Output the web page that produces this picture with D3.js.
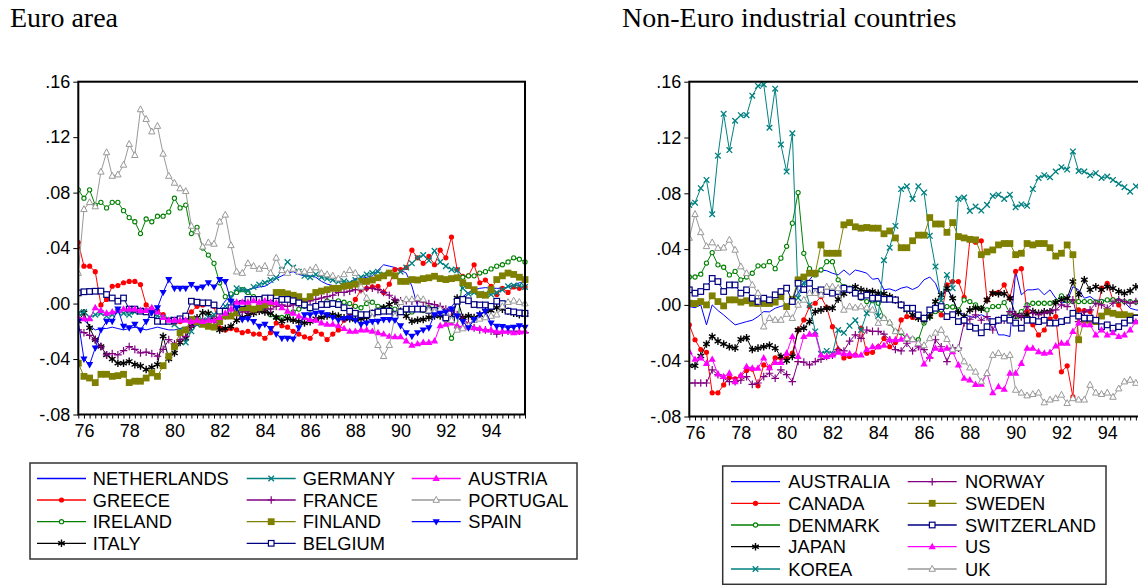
<!DOCTYPE html>
<html>
<head>
<meta charset="utf-8">
<script src="https://cdn.jsdelivr.net/npm/d3@7"></script>
<style>
  html, body { margin: 0; padding: 0; background: #fff; }
  svg { display: block; }
  text { font-family: "Liberation Sans", Arial, sans-serif; fill: #000; }
  .title { font-family: "Liberation Serif", "Times New Roman", serif; }
</style>
</head>
<body>
<svg id="chart" width="1138" height="585"></svg>
<script>
// Quarterly deviations, 1975Q4 - 1995Q3 (80 observations per country)
const FIRST_QUARTER = 1975.75;

// ---- Euro area ----
const NETHERLANDS = [-0.010,-0.012,-0.016,-0.019,-0.018,-0.018,-0.017,-0.018,-0.019,-0.018,-0.017,-0.018,-0.019,-0.018,-0.017,-0.018,-0.019,-0.019,-0.018,-0.017,-0.016,-0.015,-0.014,-0.012,-0.008,-0.004,0.002,0.005,0.008,0.010,0.010,0.011,0.012,0.0125,0.015,0.018,0.020,0.022,0.023,0.021,0.020,0.020,0.019,0.016,0.014,0.013,0.012,0.0125,0.015,0.018,0.018,0.019,0.020,0.024,0.028,0.027,0.026,0.024,0.022,0.0125,-0.002,-0.004,-0.0055,-0.006,-0.0055,-0.004,-0.002,0.002,0.005,0.008,0.010,0.011,0.0115,0.011,0.011,0.011,0.012,0.013,0.015,0.015];
const GREECE = [0.044,0.027,0.027,0.023,-0.001,0.003,0.0125,0.013,0.015,0.016,0.016,0.0137,-0.001,-0.004,-0.005,-0.008,-0.012,-0.014,-0.013,-0.010,-0.006,-0.002,-0.001,0.000,-0.002,-0.0175,-0.019,-0.018,-0.019,-0.021,-0.020,-0.022,-0.022,-0.025,-0.021,-0.014,-0.016,-0.017,-0.020,-0.022,-0.024,-0.025,-0.020,-0.022,-0.026,-0.022,-0.019,-0.012,-0.007,0.003,0.010,0.011,0.012,0.0125,0.008,0.014,0.0245,0.0245,0.026,0.0385,0.033,0.029,0.034,0.028,0.0385,0.033,0.048,0.0245,0.0197,0.020,0.028,0.015,0.017,0.0125,0.0065,0.011,0.008,0.012,0.011,0.012];
const IRELAND = [0.082,0.076,0.082,0.071,0.073,0.069,0.073,0.073,0.067,0.062,0.059,0.0505,0.061,0.059,0.063,0.063,0.066,0.076,0.069,0.071,0.0505,0.055,0.040,0.035,0.029,0.015,0.005,0.007,0.008,0.010,0.008,0.005,0.002,-0.003,-0.008,-0.010,-0.010,-0.009,-0.006,-0.004,-0.002,-0.004,-0.002,0.000,0.002,0.001,0.002,0.001,0.000,-0.002,-0.003,0.000,0.001,-0.002,-0.003,-0.004,-0.004,-0.006,-0.005,-0.006,-0.004,-0.005,-0.003,-0.004,-0.006,-0.012,-0.025,-0.017,0.019,0.020,0.020,0.022,0.023,0.025,0.027,0.028,0.030,0.033,0.032,0.030];
const ITALY = [-0.0128,-0.0067,-0.0175,-0.026,-0.031,-0.037,-0.040,-0.043,-0.043,-0.0417,-0.044,-0.045,-0.0476,-0.046,-0.044,-0.0236,-0.040,-0.0356,-0.028,-0.025,-0.0164,-0.0103,-0.0067,-0.007,-0.0115,-0.019,-0.018,-0.0164,-0.012,-0.010,-0.008,-0.007,-0.0055,-0.006,-0.007,-0.010,-0.0128,-0.011,-0.012,-0.013,-0.014,-0.013,-0.011,-0.010,-0.009,-0.008,-0.009,-0.0103,-0.011,-0.0115,-0.011,-0.010,-0.007,-0.0055,-0.003,-0.0007,0.0017,-0.0055,-0.009,-0.0128,-0.012,-0.0115,-0.010,-0.009,-0.009,-0.010,-0.0103,0.004,-0.010,-0.009,-0.010,-0.008,-0.0055,-0.005,-0.003,-0.004,-0.0055,-0.007,-0.008,-0.008];
const GERMANY = [-0.007,-0.006,-0.010,-0.008,-0.007,-0.009,-0.008,-0.006,-0.007,-0.008,-0.006,-0.005,-0.006,-0.008,-0.009,-0.010,-0.0115,-0.015,-0.019,-0.028,-0.020,-0.015,-0.012,-0.010,-0.008,-0.005,-0.002,0.004,0.011,0.010,0.009,0.012,0.0137,0.015,0.017,0.0186,0.024,0.030,0.026,0.023,0.020,0.019,0.021,0.019,0.018,0.017,0.016,0.016,0.015,0.017,0.019,0.021,0.022,0.023,0.021,0.022,0.020,0.023,0.026,0.029,0.033,0.035,0.031,0.038,0.030,0.027,0.0245,0.024,0.011,0.007,0.008,0.006,0.007,0.0065,0.008,0.010,0.0125,0.013,0.013,0.012];
const FRANCE = [-0.019,-0.021,-0.023,-0.026,-0.031,-0.037,-0.036,-0.037,-0.034,-0.031,-0.033,-0.0356,-0.035,-0.036,-0.038,-0.033,-0.026,-0.029,-0.026,-0.0236,-0.0164,-0.013,-0.012,-0.013,-0.012,-0.010,-0.009,-0.008,-0.007,-0.006,-0.006,-0.005,-0.004,-0.003,-0.004,-0.002,-0.001,-0.002,-0.001,0.000,0.001,0.002,0.003,0.004,0.005,0.006,0.008,0.008,0.009,0.010,0.010,0.011,0.011,0.010,0.008,0.006,0.003,0.002,0.002,0.0017,0.002,0.001,0.000,-0.0007,-0.002,-0.004,-0.0055,-0.008,-0.0115,-0.014,-0.0175,-0.019,-0.019,-0.020,-0.022,-0.021,-0.020,-0.020,-0.020,-0.021];
const FINLAND = [-0.043,-0.0525,-0.0537,-0.057,-0.051,-0.051,-0.0525,-0.052,-0.051,-0.057,-0.056,-0.056,-0.0537,-0.050,-0.0525,-0.0448,-0.038,-0.031,-0.021,-0.019,-0.0115,-0.013,-0.015,-0.0164,-0.017,-0.013,-0.009,-0.009,-0.0067,-0.003,-0.003,-0.004,-0.003,-0.001,0.0005,0.008,0.008,0.007,0.006,0.005,0.0017,0.005,0.008,0.009,0.010,0.011,0.011,0.0125,0.013,0.014,0.016,0.016,0.017,0.0186,0.020,0.022,0.020,0.016,0.016,0.0173,0.017,0.018,0.0186,0.0197,0.018,0.0173,0.018,0.0186,0.015,0.013,0.010,0.0065,0.006,0.010,0.0173,0.020,0.022,0.021,0.019,0.0173];
const BELGIUM = [0.0077,0.0085,0.0087,0.0089,0.009,0.0065,0.004,0.0017,0.004,-0.004,-0.004,-0.0055,-0.006,-0.008,-0.0128,-0.0128,-0.0128,-0.012,-0.011,-0.009,0.0017,0.001,0.0005,0.0005,-0.001,-0.0055,-0.0055,-0.003,-0.0007,0.000,0.003,0.003,0.003,0.004,0.004,0.0017,0.003,0.003,0.002,0.0005,-0.001,-0.003,-0.002,-0.0007,-0.0007,0.000,-0.0007,-0.003,-0.0055,-0.007,-0.008,-0.008,-0.007,-0.006,-0.0055,-0.0055,-0.008,-0.006,-0.004,-0.004,-0.004,-0.004,-0.005,-0.005,-0.0067,-0.0103,-0.0115,0.0017,0.003,0.002,-0.0007,-0.001,-0.001,-0.002,0.0017,0.000,-0.0055,-0.006,-0.0067,-0.007];
const AUSTRIA = [-0.010,-0.011,-0.011,-0.003,-0.005,-0.007,-0.006,-0.005,-0.004,-0.004,-0.004,-0.005,-0.005,-0.003,-0.006,-0.010,-0.012,-0.012,-0.012,-0.012,-0.013,-0.012,-0.013,-0.012,-0.012,-0.010,-0.007,-0.004,0.001,0.001,0.001,0.002,0.001,0.002,0.001,0.0005,-0.003,-0.0055,-0.007,-0.009,-0.010,-0.0115,-0.012,-0.014,-0.015,-0.015,-0.016,-0.018,-0.020,-0.020,-0.019,-0.019,-0.020,-0.021,-0.022,-0.0236,-0.024,-0.024,-0.027,-0.030,-0.029,-0.028,-0.028,-0.027,-0.016,-0.015,-0.014,-0.016,-0.017,-0.017,-0.0175,-0.018,-0.019,-0.019,-0.020,-0.020,-0.020,-0.021,-0.0205,-0.020];
const PORTUGAL = [0.022,0.068,0.073,0.070,0.095,0.109,0.092,0.093,0.100,0.115,0.107,0.140,0.133,0.124,0.128,0.108,0.092,0.087,0.083,0.081,0.056,0.052,0.041,0.044,0.043,0.059,0.064,0.042,0.023,0.022,0.029,0.027,0.025,0.027,0.022,0.033,0.024,0.022,0.025,0.023,0.023,0.024,0.026,0.022,0.021,0.020,0.018,0.021,0.024,0.022,0.012,0.004,-0.010,-0.030,-0.038,-0.030,-0.009,0.001,0.003,0.003,0.004,0.003,-0.005,-0.006,-0.004,-0.006,-0.012,-0.019,-0.018,-0.016,-0.012,-0.011,-0.010,-0.009,-0.008,-0.002,0.001,0.002,0.001,0.000];
const SPAIN = [-0.0128,-0.040,-0.044,-0.032,-0.019,-0.0128,-0.0128,-0.004,-0.0164,-0.0175,-0.015,-0.019,-0.013,-0.0067,-0.003,0.008,0.0173,0.011,0.011,0.011,0.0137,0.011,0.012,0.015,0.012,0.0173,0.016,0.0017,-0.003,-0.0115,-0.011,-0.013,-0.0164,-0.015,-0.018,-0.022,-0.025,-0.025,-0.0255,-0.0175,-0.008,-0.008,-0.007,-0.0067,-0.008,-0.010,-0.012,-0.011,-0.0103,-0.012,-0.015,-0.014,-0.013,-0.0128,-0.0115,-0.0115,-0.012,-0.016,-0.021,-0.0236,-0.021,-0.019,-0.0175,-0.008,-0.007,-0.006,-0.004,-0.009,-0.013,-0.0175,-0.0115,-0.008,-0.0055,-0.014,-0.0164,-0.0165,-0.0175,-0.017,-0.016,-0.017];

// ---- Non-Euro industrial countries ----
const AUSTRALIA = [-0.0012,-0.002,0.000,-0.0143,0.000,-0.004,-0.0072,-0.0108,-0.0143,-0.0132,-0.012,-0.011,-0.0084,-0.0048,-0.005,-0.0024,-0.001,0.000,0.0036,0.0084,0.0155,0.018,0.0227,0.025,0.0245,0.0227,0.0215,0.025,0.0215,0.025,0.024,0.0227,0.0184,0.019,0.0108,0.0115,0.010,0.012,0.013,0.011,0.013,0.018,0.020,0.0155,0.0048,0.012,0.004,-0.0048,-0.007,-0.0084,-0.009,-0.007,-0.009,-0.0108,-0.0215,-0.0215,-0.0227,0.024,0.0072,0.0108,0.0108,0.0115,0.0072,0.0108,0.0048,0.0012,0.0024,0.013,0.0108,0.0048,0.006,0.003,0.004,0.0024,0.003,0.0048,0.002,-0.0024,-0.0036,-0.004];
const CANADA = [-0.0143,-0.025,-0.032,-0.034,-0.063,-0.063,-0.0574,-0.052,-0.053,-0.051,-0.047,-0.046,-0.058,-0.043,-0.045,-0.038,-0.038,-0.038,-0.0346,-0.018,-0.0108,-0.0012,0.0012,0.006,-0.002,-0.0156,-0.032,-0.038,-0.037,-0.036,-0.0167,-0.0346,-0.034,-0.030,-0.024,-0.030,-0.027,-0.0108,-0.0084,-0.009,-0.0084,-0.009,-0.0084,-0.0036,-0.0072,0.0143,0.0167,0.0167,0.0055,0.0466,0.045,0.046,0.0036,0.0084,0.009,0.0143,0.0048,0.024,0.026,-0.0048,-0.0143,-0.0215,-0.018,-0.010,-0.0084,-0.048,-0.0437,-0.066,-0.0036,-0.004,-0.0048,-0.012,0.012,0.0155,0.0036,0.000,-0.0072,-0.010,-0.012,-0.012];
const DENMARK = [0.020,0.020,0.022,0.030,0.0375,0.0287,0.027,0.0215,0.024,0.018,0.020,0.0227,0.028,0.028,0.031,0.026,0.0335,0.042,0.0586,0.0805,0.037,0.026,0.0215,0.025,0.031,0.031,0.018,0.013,0.012,0.0096,0.0048,0.0024,0.003,0.0012,-0.0095,-0.013,-0.019,-0.020,-0.0246,-0.0246,-0.025,-0.013,-0.0084,-0.0048,-0.0036,-0.0012,-0.0015,-0.0036,0.0036,0.0024,0.000,-0.0024,-0.0036,-0.0012,-0.001,0.0017,-0.006,-0.0084,-0.0048,0.000,0.0012,0.0012,0.0012,0.0012,0.0024,0.0065,0.003,0.0024,0.0024,0.0024,0.0024,0.002,0.0024,0.0036,0.0036,0.003,0.0024,0.0024,0.002,0.002];
const JAPAN = [-0.0437,-0.0437,-0.0366,-0.028,-0.0227,-0.026,-0.028,-0.030,-0.031,-0.0246,-0.0236,-0.032,-0.031,-0.030,-0.029,-0.031,-0.037,-0.040,-0.037,-0.018,-0.0167,-0.012,-0.0048,-0.0036,-0.0024,-0.0024,0.004,0.008,0.0108,0.013,0.0108,0.0096,0.0096,0.0084,0.008,0.006,0.0036,0.000,-0.0036,-0.0072,-0.0095,-0.0108,-0.0084,0.0024,0.0072,0.012,0.0048,-0.0055,-0.0084,-0.0036,-0.0024,-0.003,0.0036,0.0084,0.008,0.008,0.0048,-0.0072,-0.0084,-0.0072,-0.0048,-0.006,-0.005,-0.005,0.0017,0.0036,0.0048,0.0167,0.0072,0.018,0.0108,0.013,0.0108,0.013,0.012,0.0096,0.0084,0.010,0.013,0.013];
const KOREA = [0.0717,0.0733,0.0837,0.0896,0.065,0.107,0.137,0.111,0.132,0.136,0.136,0.150,0.157,0.158,0.127,0.155,0.115,0.0956,0.123,0.005,0.016,0.000,-0.019,-0.035,-0.033,-0.035,-0.018,-0.020,-0.015,-0.011,-0.018,-0.006,0.005,-0.008,0.032,0.041,0.0566,0.083,0.085,0.076,0.085,0.0805,0.0495,0.0275,0.003,0.0215,0.012,0.076,0.077,0.0674,0.0705,0.0676,0.0717,0.078,0.079,0.076,0.079,0.070,0.072,0.071,0.083,0.091,0.093,0.0915,0.0956,0.0987,0.097,0.110,0.096,0.0956,0.093,0.0944,0.091,0.092,0.0896,0.0868,0.0844,0.0812,0.085,0.086];
const NORWAY = [-0.056,-0.056,-0.056,-0.056,-0.0466,-0.050,-0.0526,-0.055,-0.055,-0.054,-0.0514,-0.057,-0.056,-0.0514,-0.049,-0.0526,-0.0466,-0.050,-0.055,-0.0406,-0.041,-0.043,-0.0406,-0.039,-0.037,-0.036,-0.032,-0.033,-0.026,-0.0215,-0.024,-0.018,-0.019,-0.019,-0.021,-0.025,-0.032,-0.033,-0.0275,-0.033,-0.030,-0.032,-0.038,-0.025,-0.030,-0.0406,-0.031,-0.031,-0.013,-0.0103,-0.0072,-0.011,-0.0084,-0.018,-0.011,-0.011,-0.0048,-0.007,-0.0084,-0.0012,-0.006,-0.007,-0.006,-0.005,-0.0036,0.000,-0.0012,0.0036,-0.012,-0.005,-0.0036,0.0012,0.000,-0.0024,0.0012,0.0036,0.0024,0.0012,0.0024,0.002];
const SWEDEN = [0.0012,0.001,0.0024,0.000,0.0065,0.0024,-0.0007,0.0036,0.0036,0.002,0.003,0.0012,0.001,0.001,0.001,0.002,0.006,-0.0012,0.004,0.018,0.020,0.0227,0.0227,0.043,0.037,0.037,0.037,0.0574,0.059,0.056,0.055,0.0555,0.055,0.055,0.051,0.053,0.048,0.041,0.041,0.046,0.050,0.050,0.0626,0.058,0.058,0.052,0.059,0.049,0.048,0.047,0.0466,0.036,0.038,0.0394,0.043,0.044,0.044,0.036,0.037,0.044,0.043,0.044,0.044,0.041,0.035,0.037,0.043,0.036,-0.025,-0.011,-0.011,-0.012,-0.008,-0.005,-0.006,-0.007,-0.007,-0.008,-0.009,-0.009];
const SWITZERLAND = [0.0108,0.0084,0.0096,0.013,0.019,0.0167,0.0096,0.0143,0.0143,0.0084,0.0108,0.0048,0.0024,0.0048,0.0036,0.0072,0.0096,0.012,0.0024,0.0155,0.011,0.0155,0.0096,0.0108,0.0096,0.0084,0.0096,0.012,0.011,0.0084,0.006,0.007,0.0048,0.0048,0.004,0.004,0.0036,0.000,-0.0024,-0.0024,-0.0072,-0.0095,-0.0036,-0.0024,-0.0012,-0.0084,-0.007,-0.012,-0.011,-0.0156,-0.0167,-0.020,-0.0156,-0.012,-0.011,-0.0095,-0.011,-0.013,-0.0167,-0.011,-0.011,-0.012,-0.011,-0.013,-0.013,-0.012,-0.011,-0.006,-0.008,-0.0095,-0.0095,-0.011,-0.0156,-0.0143,-0.0167,-0.0156,-0.013,-0.011,-0.0095,-0.0095];
const US = [-0.0335,-0.039,-0.038,-0.042,-0.039,-0.0495,-0.0514,-0.049,-0.055,-0.0505,-0.0442,-0.0454,-0.0454,-0.038,-0.045,-0.0413,-0.0413,-0.0346,-0.0227,-0.037,-0.0227,-0.021,-0.021,-0.036,-0.037,-0.036,-0.034,-0.035,-0.035,-0.036,-0.036,-0.032,-0.030,-0.030,-0.029,-0.025,-0.025,-0.0246,-0.0227,-0.025,-0.0275,-0.0423,-0.037,-0.031,-0.032,-0.031,-0.0335,-0.043,-0.0526,-0.0538,-0.057,-0.0568,-0.049,-0.063,-0.0586,-0.0605,-0.049,-0.049,-0.042,-0.031,-0.031,-0.0335,-0.0346,-0.034,-0.0294,-0.0275,-0.0275,-0.019,-0.013,-0.0143,-0.0143,-0.0215,-0.018,-0.0215,-0.020,-0.0227,-0.0215,-0.018,-0.012,-0.012];
const UK = [0.048,0.065,0.052,0.042,0.0447,0.0407,0.041,0.0466,0.0394,0.0275,0.0227,0.0143,0.0084,-0.0156,-0.0095,-0.0108,-0.0108,-0.0065,-0.0095,0.000,0.0036,0.0084,0.0084,0.0072,0.013,0.013,0.012,-0.0036,-0.0012,-0.002,-0.0012,-0.002,-0.0036,-0.013,-0.0095,-0.0127,-0.019,-0.019,-0.024,-0.0246,-0.0275,-0.029,-0.024,-0.020,-0.018,-0.0246,-0.032,-0.031,-0.0406,-0.045,-0.048,-0.055,-0.049,-0.036,-0.0346,-0.037,-0.036,-0.061,-0.063,-0.065,-0.064,-0.063,-0.070,-0.068,-0.067,-0.0645,-0.0705,-0.067,-0.068,-0.068,-0.0574,-0.063,-0.064,-0.063,-0.066,-0.060,-0.055,-0.0538,-0.056,-0.055];

// Axis ticks
const yTicks = [-0.08, -0.04, 0.00, 0.04, 0.08, 0.12, 0.16];
const xLabelYears = [1976, 1978, 1980, 1982, 1984, 1986, 1988, 1990, 1992, 1994];
const panelTitles = ["Euro area", "Non-Euro industrial countries"];

// Series drawn in each panel, with their line colour and marker
const euroSeries = [
  { name: "NETHERLANDS", values: NETHERLANDS, color: "#0000ff", marker: "none" },
  { name: "GREECE",      values: GREECE,      color: "#ff0000", marker: "dot" },
  { name: "IRELAND",     values: IRELAND,     color: "#008000", marker: "ring" },
  { name: "ITALY",       values: ITALY,       color: "#000000", marker: "star" },
  { name: "GERMANY",     values: GERMANY,     color: "#008080", marker: "x" },
  { name: "FRANCE",      values: FRANCE,      color: "#800080", marker: "plus" },
  { name: "FINLAND",     values: FINLAND,     color: "#808000", marker: "square" },
  { name: "BELGIUM",     values: BELGIUM,     color: "#000080", marker: "box" },
  { name: "AUSTRIA",     values: AUSTRIA,     color: "#ff00ff", marker: "tri" },
  { name: "PORTUGAL",    values: PORTUGAL,    color: "#999999", marker: "opentri" },
  { name: "SPAIN",       values: SPAIN,       color: "#0000ff", marker: "tridown" }
];
const otherSeries = [
  { name: "AUSTRALIA",   values: AUSTRALIA,   color: "#0000ff", marker: "none" },
  { name: "CANADA",      values: CANADA,      color: "#ff0000", marker: "dot" },
  { name: "DENMARK",     values: DENMARK,     color: "#008000", marker: "ring" },
  { name: "JAPAN",       values: JAPAN,       color: "#000000", marker: "star" },
  { name: "KOREA",       values: KOREA,       color: "#008080", marker: "x" },
  { name: "NORWAY",      values: NORWAY,      color: "#800080", marker: "plus" },
  { name: "SWEDEN",      values: SWEDEN,      color: "#808000", marker: "square" },
  { name: "SWITZERLAND", values: SWITZERLAND, color: "#000080", marker: "box" },
  { name: "US",          values: US,          color: "#ff00ff", marker: "tri" },
  { name: "UK",          values: UK,          color: "#999999", marker: "opentri" }
];

const svg = d3.select("#chart");

// Draw one marker glyph centred at (0,0) into group g
function drawMarker(g, type, color) {
  switch (type) {
    case "dot":
      g.append("circle").attr("r", 2.6).attr("fill", color); break;
    case "ring":
      g.append("circle").attr("r", 2.1).attr("fill", "#fff").attr("stroke", color).attr("stroke-width", 1.1); break;
    case "star":
      g.append("path").attr("d", "M0,-3.8V3.8M-3.3,-1.9L3.3,1.9M-3.3,1.9L3.3,-1.9")
        .attr("stroke", color).attr("stroke-width", 1.4).attr("fill", "none"); break;
    case "x":
      g.append("path").attr("d", "M-2.8,-2.8L2.8,2.8M-2.8,2.8L2.8,-2.8")
        .attr("stroke", color).attr("stroke-width", 1.3).attr("fill", "none"); break;
    case "plus":
      g.append("path").attr("d", "M-3.8,0H3.8M0,-3.8V3.8")
        .attr("stroke", color).attr("stroke-width", 1.2).attr("fill", "none"); break;
    case "square":
      g.append("rect").attr("x", -3.4).attr("y", -3.4).attr("width", 6.8).attr("height", 6.8).attr("fill", color); break;
    case "box":
      g.append("rect").attr("x", -2.8).attr("y", -2.8).attr("width", 5.6).attr("height", 5.6)
        .attr("fill", "#fff").attr("stroke", color).attr("stroke-width", 1.2); break;
    case "tri":
      g.append("path").attr("d", "M0,-3.9L3.6,2.5H-3.6Z").attr("fill", color); break;
    case "opentri":
      g.append("path").attr("d", "M0,-3.6L3.2,2.3H-3.2Z").attr("fill", "#fff")
        .attr("stroke", color).attr("stroke-width", 1); break;
    case "tridown":
      g.append("path").attr("d", "M0,3.9L3.6,-2.5H-3.6Z").attr("fill", color); break;
  }
}

function fmtY(v) {
  const s = d3.format(".2f")(Math.abs(v)).replace(/^0/, "");
  return (v < 0 ? "-" : "") + s;
}

function drawPanel(cfg) {
  const { left, right, top, bottom, series, title, titleX } = cfg;
  const n = series[0].values.length;
  const x = d3.scaleLinear().domain([FIRST_QUARTER, FIRST_QUARTER + (n - 1) / 4]).range([left, right]);
  const y = d3.scaleLinear().domain([-0.08, 0.16]).range([bottom, top]);

  svg.append("text").attr("class", "title").attr("x", titleX).attr("y", 27)
    .attr("font-size", 28).text(title);

  const clipId = "clip" + Math.round(left);
  svg.append("clipPath").attr("id", clipId).append("rect")
    .attr("x", left).attr("y", top - 6).attr("width", right - left + 8).attr("height", bottom - top + 12);

  // y axis
  const yAxis = d3.axisLeft(y).tickValues(yTicks).tickFormat(fmtY).tickSize(5).tickPadding(3);
  const gy = svg.append("g").attr("transform", `translate(${left},0)`).call(yAxis);
  gy.select(".domain").remove();
  gy.selectAll("text").attr("font-size", 18).attr("font-family", "Liberation Sans, Arial, sans-serif");
  gy.selectAll("line").attr("stroke", "#000");

  // x axis: quarterly minor ticks, labelled every other year
  const quarterTicks = d3.range(n).map(i => FIRST_QUARTER + i / 4);
  const gxMinor = svg.append("g").attr("transform", `translate(0,${bottom})`)
    .call(d3.axisBottom(x).tickValues(quarterTicks).tickSize(4).tickFormat(""));
  gxMinor.select(".domain").remove();
  gxMinor.selectAll("line").attr("stroke", "#000");
  const gx = svg.append("g").attr("transform", `translate(0,${bottom})`)
    .call(d3.axisBottom(x).tickValues(xLabelYears).tickSize(0).tickPadding(10)
      .tickFormat(d => String(d).slice(2)));
  gx.select(".domain").remove();
  gx.selectAll("text").attr("font-size", 18).attr("font-family", "Liberation Sans, Arial, sans-serif");

  // series
  const plot = svg.append("g").attr("clip-path", `url(#${clipId})`);
  const line = d3.line().x((d, i) => x(FIRST_QUARTER + i / 4)).y(d => y(d));
  series.forEach(s => {
    plot.append("path").datum(s.values).attr("d", line)
      .attr("fill", "none").attr("stroke", s.color).attr("stroke-width", 1);
    if (s.marker !== "none") {
      s.values.forEach((v, i) => {
        const g = plot.append("g").attr("transform", `translate(${x(FIRST_QUARTER + i / 4)},${y(v)})`);
        drawMarker(g, s.marker, s.color);
      });
    }
  });

  // frame
  svg.append("rect").attr("x", left).attr("y", top).attr("width", right - left).attr("height", bottom - top)
    .attr("fill", "none").attr("stroke", "#000").attr("stroke-width", 2);
}

function drawLegend(cfg) {
  const { x0, y0, w, h, series, rowY, lineX, textX } = cfg;
  svg.append("rect").attr("x", x0).attr("y", y0).attr("width", w).attr("height", h)
    .attr("fill", "#fff").attr("stroke", "#333").attr("stroke-width", 1.5);
  const rows = rowY.length;
  series.forEach((s, k) => {
    const c = Math.floor(k / rows), r = k % rows;
    const yy = rowY[r];
    svg.append("line").attr("x1", lineX[c]).attr("x2", lineX[c] + 49).attr("y1", yy).attr("y2", yy)
      .attr("stroke", s.color).attr("stroke-width", 1.3);
    if (s.marker !== "none") {
      const g = svg.append("g").attr("transform", `translate(${lineX[c] + 24.5},${yy})`);
      drawMarker(g, s.marker, s.color);
    }
    svg.append("text").attr("x", textX[c]).attr("y", yy).attr("dy", "0.36em")
      .attr("font-size", 18.3).text(s.name);
  });
}

drawPanel({ left: 78.3, right: 525, top: 81.7, bottom: 414.5, series: euroSeries, title: panelTitles[0], titleX: 10 });
drawPanel({ left: 689.3, right: 1141.6, top: 81.7, bottom: 416.5, series: otherSeries, title: panelTitles[1], titleX: 622 });

drawLegend({ x0: 30, y0: 463, w: 547, h: 96, series: euroSeries,
  rowY: [478.5, 500, 521.7, 543.3], lineX: [37, 246.7, 411.7], textX: [92.7, 302.7, 468.3] });
drawLegend({ x0: 722.7, y0: 466, w: 383.3, h: 118.3, series: otherSeries,
  rowY: [481.7, 503.3, 525, 546.7, 569], lineX: [731, 907.7], textX: [788.3, 965] });
</script>
</body>
</html>
